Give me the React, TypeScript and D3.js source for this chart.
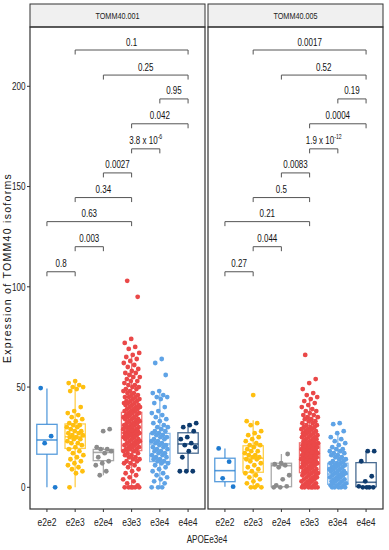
import * as d3 from "d3";

// ---------------------------------------------------------------------------
// Data
// ---------------------------------------------------------------------------

const GROUPS = ["e2e2", "e2e3", "e2e4", "e3e3", "e3e4", "e4e4"];
const GROUP_COLORS = ["#1F7BD0", "#FFBF0F", "#8C8C8C", "#EA4848", "#5FA3E6", "#0E3B6E"];
const PANELS = ["TOMM40.001", "TOMM40.005"];
const Y_TICKS = [0, 50, 100, 150, 200];

// box stats per group: [lower whisker, q1, median, q3, upper whisker]
const BOX_001 = [
  [0, 16.5, 23.6, 31.4, 49.3],
  [0, 19.4, 25.2, 31.6, 52.5],
  [6, 13.3, 17.4, 18.9, 20],
  [0, 18.3, 27.2, 37.4, 65],
  [0, 12.8, 21.6, 26.9, 47],
  [8, 17, 21.6, 27.2, 32],
];
const BOX_005 = [
  [0.3, 2.8, 8.3, 14.5, 19.4],
  [0, 7.5, 14.5, 20.7, 33.5],
  [0, 0.3, 10.8, 12, 16.6],
  [0, 7.3, 14.8, 22.2, 44],
  [0, 1.5, 6.6, 12, 27],
  [0, 0.3, 2.5, 12.3, 18],
];

// raw values
const PTS_001_E2E2 = [49.5, 25.5, 22, 0];
const PTS_001_E2E3 = [53, 52, 51, 50, 50, 49, 48, 40, 38, 37, 36, 35, 34, 33, 32, 31, 31, 30, 30, 29, 28, 28, 27, 27, 26, 26, 25, 25, 24, 24, 23, 22, 22, 21, 20, 19, 18, 17, 16, 15, 14, 13, 12, 11, 10, 9, 8, 7, 0];
const PTS_001_E2E4 = [29, 28, 20, 19, 19, 18, 17, 15, 13, 12, 11, 8, 6];
const PTS_001_E3E3 = [103, 95, 74, 72, 70, 69, 67, 66, 65, 64, 63, 62, 61, 60, 59, 58, 57, 57, 56, 55, 55, 54, 53, 53, 52, 51, 51, 50, 50, 49, 49, 48, 48, 47, 47, 46, 46, 45, 45, 45, 44, 44, 43, 43, 43, 42, 42, 42, 41, 41, 41, 40, 40, 40, 39, 39, 39, 38, 38, 38, 37, 37, 37, 36, 36, 36, 35, 35, 35, 34, 34, 34, 33, 33, 33, 32, 32, 32, 31, 31, 31, 30, 30, 30, 30, 29, 29, 29, 28, 28, 28, 28, 27, 27, 27, 27, 26, 26, 26, 26, 25, 25, 25, 24, 24, 24, 23, 23, 23, 22, 22, 22, 21, 21, 21, 20, 20, 20, 19, 19, 19, 18, 18, 17, 17, 16, 16, 15, 15, 14, 14, 13, 13, 12, 12, 11, 10, 9, 8, 7, 6, 5, 4, 3, 2, 1, 0, 0, 0, 0, 0, 0];
const PTS_001_E3E4 = [64, 62, 56, 48, 47, 46, 45, 45, 44, 42, 40, 38, 37, 36, 35, 34, 33, 32, 31, 30, 30, 29, 28, 28, 27, 27, 26, 26, 25, 25, 24, 24, 23, 23, 22, 22, 21, 21, 20, 20, 19, 19, 18, 18, 17, 17, 16, 16, 15, 15, 14, 14, 13, 13, 12, 12, 11, 10, 9, 8, 7, 6, 5, 4, 3, 2, 0, 0, 0];
const PTS_001_E4E4 = [32, 31, 30, 28, 25, 24, 22, 21, 20, 18, 15, 8, 8, 8];

const PTS_005_E2E2 = [19.4, 12.8, 4.5, 0.3];
const PTS_005_E2E3 = [46, 33, 32, 31, 28, 27, 26, 25, 24, 23, 22, 21, 21, 20, 19, 18, 18, 17, 16, 16, 15, 15, 14, 14, 13, 12, 11, 10, 9, 8, 7, 6, 5, 4, 3, 2, 1, 0, 0, 0];
const PTS_005_E2E4 = [16.6, 12, 11.5, 11, 10, 6, 4, 1, 0.5, 0, 0];
const PTS_005_E3E3 = [66, 54, 52, 49, 47, 46, 45, 44, 43, 42, 41, 40, 39, 38, 38, 37, 36, 36, 35, 35, 34, 34, 33, 33, 32, 32, 31, 31, 30, 30, 30, 29, 29, 29, 28, 28, 28, 27, 27, 27, 26, 26, 26, 25, 25, 25, 24, 24, 24, 23, 23, 23, 22, 22, 22, 22, 21, 21, 21, 21, 20, 20, 20, 20, 19, 19, 19, 19, 18, 18, 18, 18, 17, 17, 17, 17, 16, 16, 16, 16, 15, 15, 15, 15, 14, 14, 14, 14, 13, 13, 13, 13, 12, 12, 12, 12, 11, 11, 11, 10, 10, 10, 9, 9, 9, 8, 8, 8, 7, 7, 7, 6, 6, 6, 5, 5, 5, 4, 4, 4, 3, 3, 3, 2, 2, 2, 1, 1, 1, 0, 0, 0, 0, 0, 0, 0];
const PTS_005_E3E4 = [32, 31.5, 28, 27, 25, 24, 23, 22, 21, 20, 19, 19, 18, 18, 17, 17, 16, 16, 15, 15, 14, 14, 13, 13, 12, 12, 12, 11, 11, 11, 10, 10, 10, 9, 9, 9, 8, 8, 8, 7, 7, 7, 6, 6, 6, 5, 5, 5, 4, 4, 4, 3, 3, 3, 2, 2, 2, 1, 1, 1, 0, 0, 0, 0, 0];
const PTS_005_E4E4 = [18, 18, 13, 5.5, 3, 0.5, 0, 0, 0, 0];

const PTS_001 = [PTS_001_E2E2, PTS_001_E2E3, PTS_001_E2E4, PTS_001_E3E3, PTS_001_E3E4, PTS_001_E4E4];
const PTS_005 = [PTS_005_E2E2, PTS_005_E2E3, PTS_005_E2E4, PTS_005_E3E3, PTS_005_E3E4, PTS_005_E4E4];

// pairwise comparisons, bottom to top
const BRACKET_PAIRS = [[0, 1], [1, 2], [0, 3], [1, 3], [2, 3], [3, 4], [3, 5], [4, 5], [2, 5], [1, 5]];
const BRACKET_Y = [107.5, 120, 132.5, 144.5, 156.8, 168.8, 181.3, 193.7, 205.6, 218.1];
const P_001 = ["0.8", "0.003", "0.63", "0.34", "0.0027", "3.8e-6", "0.042", "0.95", "0.25", "0.1"];
const P_005 = ["0.27", "0.044", "0.21", "0.5", "0.0083", "1.9e-12", "0.0004", "0.19", "0.52", "0.0017"];

// ---------------------------------------------------------------------------
// Layout
// ---------------------------------------------------------------------------

const W = 389;
const H = 550;
const FONT = "'Liberation Sans', Arial, sans-serif";
const SQUEEZE = 0.74; // narrow-font look
const PANEL_X = [[30, 205], [208, 383]];
const STRIP_TOP = 4;
const PANEL_TOP = 27;
const PANEL_BOTTOM = 509;

const y = d3.scaleLinear().domain([0, 200]).range([487.3, 86.3]);

type NTProps = {
  x: number;
  y: number;
  size: number;
  anchor?: "start" | "middle" | "end";
  fill?: string;
  children: React.ReactNode;
};

// condensed text: horizontal squeeze around the anchor point
function NText({ x, y, size, anchor = "middle", fill = "#222", children }: NTProps) {
  return (
    <text
      transform={`translate(${x},${y}) scale(${SQUEEZE},1)`}
      textAnchor={anchor}
      fontSize={size}
      fontFamily={FONT}
      fill={fill}
    >
      {children}
    </text>
  );
}

function PValue({ x, yy, label }: { x: number; yy: number; label: string }) {
  const m = label.match(/^([\d.]+)e(-\d+)$/);
  if (!m) {
    return (
      <NText x={x} y={yy} size={10.8} fill="#111">
        {label}
      </NText>
    );
  }
  return (
    <NText x={x} y={yy} size={10.8} fill="#111">
      {`${m[1]} x 10`}
      <tspan fontSize={7} dy={-5}>{m[2]}</tspan>
    </NText>
  );
}

function Panel({ idx }: { idx: number }) {
  const [x0, x1] = PANEL_X[idx];
  const x = d3.scalePoint().domain(GROUPS).range([x0, x1]).padding(0.6);
  const step = x.step();
  const boxW = step * 0.72;
  const jitterW = step * 0.3;
  const boxes = idx === 0 ? BOX_001 : BOX_005;
  const pts = idx === 0 ? PTS_001 : PTS_005;
  const pvals = idx === 0 ? P_001 : P_005;

  return (
    <g>
      {/* strip */}
      <rect x={x0} y={STRIP_TOP} width={x1 - x0} height={PANEL_TOP - STRIP_TOP} fill="#F0F0F0" stroke="#333" strokeWidth={1} />
      <NText x={(x0 + x1) / 2} y={19.2} size={9.8}>
        {PANELS[idx]}
      </NText>

      {/* boxes */}
      {GROUPS.map((gname, gi) => {
        const cx = x(gname)!;
        const [lo, q1, med, q3, hi] = boxes[gi];
        const c = GROUP_COLORS[gi];
        return (
          <g key={gname} stroke={c} strokeWidth={1.3} strokeOpacity={0.75} fill="none">
            <line x1={cx} x2={cx} y1={y(q3)} y2={y(hi)} />
            <line x1={cx} x2={cx} y1={y(q1)} y2={y(lo)} />
            <rect x={cx - boxW / 2} y={y(q3)} width={boxW} height={y(q1) - y(q3)} fill="white" />
            <line x1={cx - boxW / 2} x2={cx + boxW / 2} y1={y(med)} y2={y(med)} strokeWidth={1.6} />
          </g>
        );
      })}

      {/* jittered points */}
      {GROUPS.map((gname, gi) => {
        const cx = x(gname)!;
        return (
          <g key={gname + "-pts"} fill={GROUP_COLORS[gi]}>
            {pts[gi].map((v, i) => {
              const off = (((i * 0.6180339887 + gi * 0.37 + 0.13) % 1) - 0.5) * 2 * jitterW;
              return <circle key={i} cx={cx + off} cy={y(v)} r={2.4} />;
            })}
          </g>
        );
      })}

      {/* significance brackets */}
      {BRACKET_PAIRS.map(([a, b], i) => {
        const xa = x(GROUPS[a])!;
        const xb = x(GROUPS[b])!;
        const yy = y(BRACKET_Y[i]);
        return (
          <g key={"br" + i}>
            <path d={`M${xa},${yy + 4.5}V${yy}H${xb}V${yy + 4.5}`} fill="none" stroke="#555" strokeWidth={1} />
            <PValue x={(xa + xb) / 2} yy={yy - 4.5} label={pvals[i]} />
          </g>
        );
      })}

      {/* panel border */}
      <rect x={x0} y={PANEL_TOP} width={x1 - x0} height={PANEL_BOTTOM - PANEL_TOP} fill="none" stroke="#333" strokeWidth={1.2} />

      {/* x axis */}
      {GROUPS.map((gname) => (
        <g key={gname + "-tick"}>
          <line x1={x(gname)} x2={x(gname)} y1={PANEL_BOTTOM} y2={PANEL_BOTTOM + 3} stroke="#333" />
          <NText x={x(gname)!} y={525.5} size={11.5}>
            {gname}
          </NText>
        </g>
      ))}
    </g>
  );
}

export default function App() {
  return (
    <svg width={W} height={H} style={{ display: "block", position: "absolute", left: 0, top: 0, background: "white" }}>
      <rect width={W} height={H} fill="white" />
      {/* y axis */}
      {Y_TICKS.map((t) => (
        <g key={t}>
          <line x1={27} x2={30} y1={y(t)} y2={y(t)} stroke="#333" />
          <NText x={25.5} y={y(t) + 3.8} size={11} anchor="end">
            {t}
          </NText>
        </g>
      ))}
      <text
        transform={`translate(11,268) rotate(-90)`}
        textAnchor="middle"
        fontSize={10.5}
        letterSpacing={1.3}
        fontFamily={FONT}
        fill="#111"
      >
        Expression of TOMM40 isoforms
      </text>
      <Panel idx={0} />
      <Panel idx={1} />
      <NText x={207} y={543} size={11}>
        APOEe3e4
      </NText>
    </svg>
  );
}
